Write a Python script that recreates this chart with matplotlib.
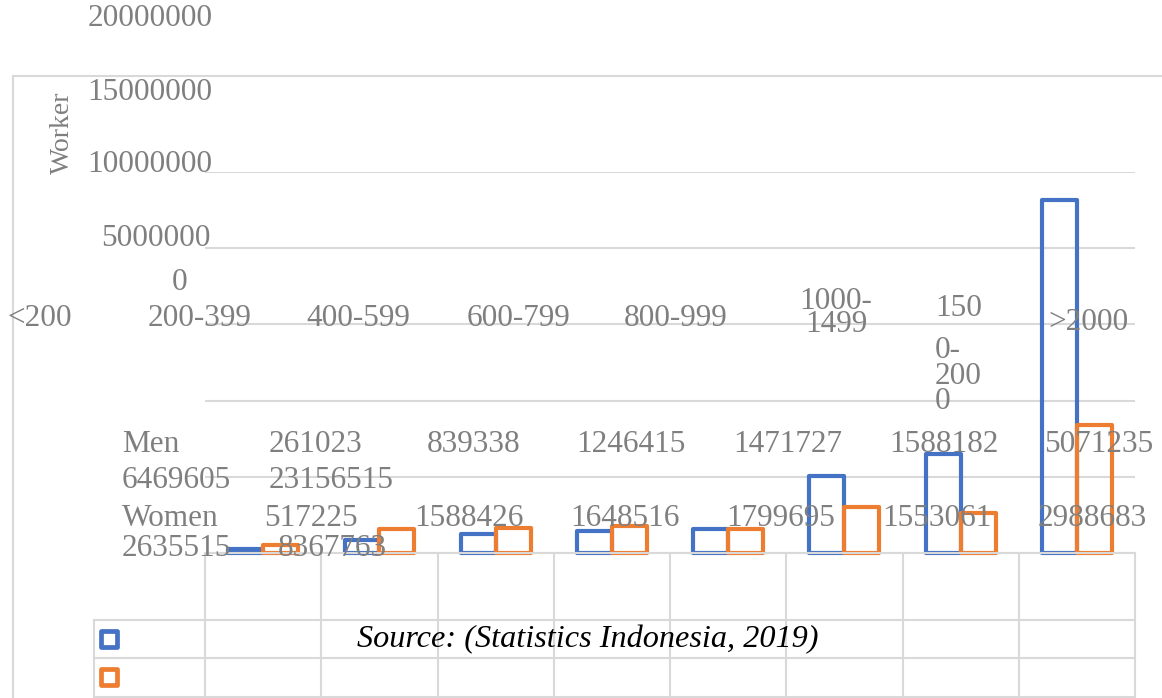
import matplotlib
matplotlib.use("Agg")
import matplotlib.pyplot as plt
from matplotlib.markers import MarkerStyle

# ---------------- data ----------------
categories = ['<200', '200-399', '400-599', '600-799', '800-999',
              '1000-1499', '1500-2000', '>2000']
men = [261023, 839338, 1246415, 1471727, 1588182, 5071235, 6469605, 23156515]
women = [517225, 1588426, 1648516, 1799695, 1553061, 2988683, 2635515, 8367763]
series_names = ['Men', 'Women']
ytick_labels = ['20000000', '15000000', '10000000', '5000000', '0']
axis_title = 'Worker'
source_note = 'Source: (Statistics Indonesia, 2019)'

# ---------------- style ----------------
BLUE = '#4472C4'
ORANGE = '#ED7D31'
GRID = '#d9d9d9'
TXT = '#7f7f7f'
SERIF = ['Liberation Serif', 'DejaVu Serif']
FS = 22.5

W, H = 1162, 698
fig = plt.figure(figsize=(W / 100, H / 100), dpi=100)

# main plotting axes
left, right, top, base = 205, 1135, 172, 553
ax = fig.add_axes([left / W, (H - base) / H, (right - left) / W, (base - top) / H], zorder=1)
ax.patch.set_alpha(0)
ax.set_xlim(-0.5, len(categories) - 0.5)
ax.set_ylim(0, 25000000)
ax.set_yticks(range(0, 25000001, 5000000))
ax.set_xticks([])
ax.tick_params(left=False, labelleft=False)
for s in ax.spines.values():
    s.set_visible(False)
ax.yaxis.grid(True, color=GRID, lw=1.5)
ax.set_axisbelow(True)

bw = 0.30
xs = list(range(len(categories)))
ax.bar([x - bw / 2 for x in xs], men, bw, facecolor='none', edgecolor=BLUE,
       lw=3, clip_on=False, zorder=3, joinstyle='round')
ax.bar([x + bw / 2 for x in xs], women, bw, facecolor='none', edgecolor=ORANGE,
       lw=3, clip_on=False, zorder=4, joinstyle='round')

# overlay in pixel coordinates (text + frame), drawn on top
ov = fig.add_axes([0, 0, 1, 1], zorder=2)
ov.patch.set_alpha(0)
ov.set_xlim(0, W)
ov.set_ylim(H, 0)
ov.axis('off')

# ---------------- frame & table lines ----------------
ov.plot([13, 13], [76, H], color=GRID, lw=1.5, zorder=0)
ov.plot([13, W], [76, 76], color=GRID, lw=1.5, zorder=0)
ov.plot([left, right], [base, base], color=GRID, lw=1.5, zorder=0)
for yy in (620, 658, 697):
    ov.plot([94, right], [yy, yy], color=GRID, lw=1.5, zorder=0)
ov.plot([94, 94], [620, 697], color=GRID, lw=1.5, zorder=0)
step = (right - left) / len(categories)
for k in range(len(categories) + 1):
    xx = left + k * step
    ov.plot([xx, xx], [base + 1, 697], color=GRID, lw=1.5, zorder=0)

# legend keys
for yy, c in zip((639, 677), (BLUE, ORANGE)):
    ov.plot([109], [yy], ls='none', marker=MarkerStyle('s', joinstyle='round'),
            ms=11.5, mfc='white', mec=c, mew=3.4)

# ---------------- texts ----------------
tk = dict(family=SERIF, color=TXT, fontsize=FS)

# value axis labels (displaced)
ytick_pos = [(150, 19), (150, 92), (150, 164), (156, 239), (180, 283)]
for lab, (px, py) in zip(ytick_labels, ytick_pos):
    ov.text(px, py, lab, ha='center', va='center', **tk)

ov.text(62, 133, axis_title, rotation=90, ha='center', va='center',
        family=SERIF, color=TXT, fontsize=20)

# category labels (displaced / wrapped)
cat_pos = [(40, 318), (200, 318), (358, 318), (518, 318), (676, 318)]
for lab, (px, py) in zip(categories[:5], cat_pos):
    ov.text(px, py, lab, ha='center', va='center', **tk)
a, b = categories[5].split('-')
ov.text(836, 313, a + '-\n' + b, ha='center', va='center', linespacing=0.75, **tk)
c6 = categories[6]
ov.text(935, 308, c6[:3], ha='left', va='center', **tk)
ov.text(935, 376, c6[3:5] + '\n' + c6[5:8] + '\n' + c6[8:], ha='left',
        va='center', linespacing=0.82, **tk)
ov.text(1088, 323, categories[7], ha='center', va='center', **tk)

# data table text flow
row1_x = [316, 474, 631, 788, 944, 1099]
row3_x = [311, 469, 625, 781, 937, 1092]
ov.text(122, 445, series_names[0], ha='left', va='center', **tk)
for v, px in zip(men[:6], row1_x):
    ov.text(px, 445, str(v), ha='center', va='center', **tk)
ov.text(122, 481, str(men[6]), ha='left', va='center', **tk)
ov.text(331, 481, str(men[7]), ha='center', va='center', **tk)
ov.text(122, 519, series_names[1], ha='left', va='center', **tk)
for v, px in zip(women[:6], row3_x):
    ov.text(px, 519, str(v), ha='center', va='center', **tk)
ov.text(122, 548, str(women[6]), ha='left', va='center', **tk)
ov.text(332, 548, str(women[7]), ha='center', va='center', **tk)

ov.text(588, 640, source_note, ha='center', va='center', family=SERIF,
        style='italic', color='black', fontsize=23.2)

fig.savefig('out.png', dpi=100)
